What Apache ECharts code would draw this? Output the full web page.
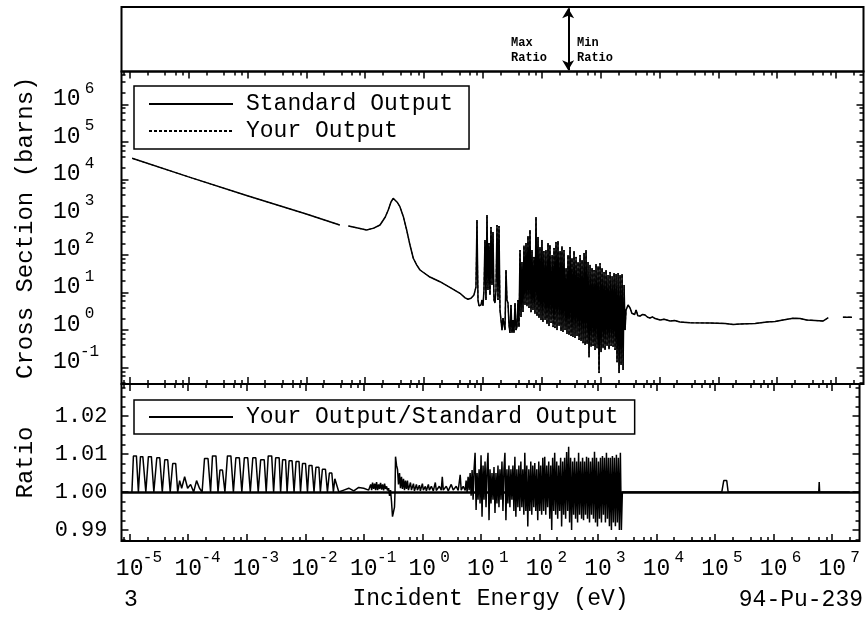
<!DOCTYPE html>
<html><head><meta charset="utf-8">
<script src="https://cdn.jsdelivr.net/npm/echarts@6/dist/echarts.min.js"></script>
<style>html,body{margin:0;padding:0;background:#fff}#c{width:867px;height:630px}</style>
</head><body><div id="c"></div>
<script>
// ---------------- data ----------------
const decadeTicks = [1e-5,1e-4,1e-3,1e-2,1e-1,1,10,100,1e3,1e4,1e5,1e6,1e7];
const xsDecadeTicks = [1e-1,1,10,100,1e3,1e4,1e5,1e6];
const ratioTicks = [0.99,1.00,1.01,1.02];
const ratioMinorTicks = [0.9875,0.9925,0.995,0.9975,1.0025,1.005,1.0075,1.0125,1.015,1.0175,1.0225,1.025,1.0275];
const maxRatioE = 290;

// smooth low-energy part of the cross section (eV, barns)
const lowE  = [1.1e-5,1e-4,1e-3,1e-2,0.037,0.044,0.052,0.075,0.106,0.14,0.179,0.22,0.247,0.275,0.30,0.35,0.39,0.445,0.508,0.578,0.658,0.75,0.855,1.26,1.87,2.99,4.09,5.0];
const lowXS = [36700,11800,3700,1216,620,null,583,513,457,513,620,1010,1550,2535,3180,2500,1900,1050,457,182,81,54,39.5,25.7,19.3,12.7,9.5,7.2];

// resonance region samples (eV)
const resE = [5.59,5.81,6.04,6.29,6.54,6.80,7.07,7.35,7.64,7.95,8.27,8.60,8.94,9.30,9.67,10.05,10.45,10.87,11.30,11.76,12.22,12.71,13.22,13.75,14.30,14.87,15.46,16.08,16.72,17.39,18.08,18.80,19.56,20.33,21.14,21.99,22.87,23.78,24.73,25.71,26.74,27.81,28.92,30.07,31.27,32.52,33.82,35.17,36.56,38.02,39.54,41.12,
42.8,44.5,46.2,48.1,50.0,52.0,54.1,56.2,58.5,60.8,63.2,65.8,68.4,71.1,73.9,76.9,80.0,83.2,86.5,89.9,93.5,97.3,101,105,109,114,118,123,128,133,138,144,150,156,162,168,175,182,189,197,205,213,221,230,239,249,259,269,280,291,303,315,327,340,354,368,383,398,414,431,448,466,484,504,524,545,566,589,612,637,662,689,716,745,774,805,837,871,906,942,979,1019,1059,1102,1145,1191,1239,1288,1339,1393,1449,1507,1567,1629,1694,1762,1832,1905,1982,2061,2143,2228,2317,2410,2506,2606];
const resXS = [6.6,6.5,6.8,7.0,7.4,7.7,8.6,11,
14,841,6.3,4.4,3.9,4.65,6.3,
4.4,11.6,248,6.3,1143,11.6,206,8.6,548,15.8,
405,6.3,5.25,11.6,620,6.3,583,3.42,
1.85,1.0,2.09,1.85,1.0,39.5,6.3,5.25,1.36,0.84,
4.65,0.84,1.85,0.84,5.25,1.0,1.21,6.3,1.21,
134,2.23,64,3.03,176,4.65,206,4.3,316,3.86,
457,3.0,134,3.42,88,2.7,1010,2.37,298,2.09,
161,1.85,248,1.64,126,1.85,134,1.45,206,1.28,
182,1.54,99,1.2,152,1.13,220,1.0,233,1.28,
126,0.94,170,0.89,134,1.0,44.5,0.79,99,0.74,
161,0.70,82,0.66,126,0.62,88,0.70,64,0.545,
99,0.51,73,0.45,112,0.40,134,0.43,64,0.19,
54,0.36,44.5,0.38,39.5,0.295,57,0.33,50,0.072,
60,0.26,44.5,0.33,35,0.295,39.5,0.38,29,0.31,
35,0.38,27,0.36,32.8,0.295,31,0.14,32.8,0.072,
29,0.118,31,0.087,15.8,1.0];
const resRatio = [1.003,1.000,1.004,1.0005,1.005,0.999,1.0058,0.998,
1.006,1.0103,0.9953,1.005,0.998,1.006,0.997,
1.0097,0.9935,1.007,0.998,1.008,0.996,1.006,1.0103,0.9926,1.006,
0.997,1.005,0.998,1.0066,0.9945,1.005,0.997,1.007,
0.996,1.006,0.998,1.008,0.995,1.006,1.0103,0.9926,1.006,0.997,
1.007,0.996,1.006,0.998,1.007,0.995,1.0093,0.9935,1.006,
0.996,1.007,0.995,1.008,0.996,1.006,0.994,1.0103,0.995,1.007,
0.9909,1.006,0.995,1.008,0.994,1.007,0.996,1.0076,0.995,1.006,
0.9926,1.008,0.995,1.007,0.994,1.009,0.995,1.0093,0.994,1.007,
0.996,1.008,0.993,1.007,0.99,1.009,0.995,1.0103,0.994,1.008,
0.993,1.007,0.995,1.009,0.9909,1.008,0.994,1.009,0.993,1.0105,
0.995,1.0119,0.992,1.009,0.99,1.008,0.994,1.009,0.993,1.008,
0.992,1.0103,0.994,1.008,0.993,1.009,0.9926,1.008,0.994,1.0093,
0.993,1.009,0.992,1.008,0.994,1.009,0.993,1.0106,0.992,1.009,
0.9909,1.008,0.993,1.009,0.992,1.0095,0.994,1.009,0.992,1.0103,
0.993,1.009,0.991,1.009,0.99,1.0095,0.992,1.009,0.991,1.0098,
0.992,1.009,0.99,1.0103,0.99,1.000];

// smooth high-energy part of the cross section
const highE  = [2710,2930,3170,3400,3560,3800,4010,4300,4690,5200,5700,6300,6930,7600,8430,1.03e4,1.2e4,1.52e4,1.8e4,2.24e4,3.32e4,7.26e4,1.31e5,1.79e5,2.35e5,4.23e5,6.67e5,9.2e5,1.26e6,1.86e6,2.45e6,3.18e6,4.4e6,6.0e6,7.4e6,1.0e7,1.31e7,1.87e7];
const highXS = [3.42,4.65,3.86,2.8,3.03,2.6,3.42,2.4,2.37,2.6,2.52,2.2,2.09,2.25,2.03,1.85,1.95,1.74,1.8,1.64,1.57,1.54,1.50,1.41,1.45,1.50,1.64,1.69,1.85,2.06,2.03,1.85,1.80,1.74,2.13,null,2.2,2.2];

// ratio, low-energy part
const ratioLowE = [1.094e-5,1.16e-5,1.305e-5,1.41e-5,1.53e-5,1.68e-5,1.89e-5,2.09e-5,2.35e-5,2.59e-5,2.91e-5,3.27e-5,3.61e-5,3.98e-5,4.47e-5,4.93e-5,5.44e-5,6.12e-5,6.62e-5,7.15e-5,7.74e-5,8.70e-5,9.78e-5,1.10e-4,1.24e-4,1.39e-4,1.56e-4,1.73e-4,1.90e-4,2.18e-4,2.41e-4,2.60e-4,2.98e-4,3.23e-4,3.49e-4,3.85e-4,4.24e-4,4.68e-4,5.36e-4,5.92e-4,6.52e-4,7.48e-4,8.25e-4,9.10e-4,1.04e-3,1.15e-3,1.27e-3,1.43e-3,1.57e-3,1.73e-3,1.99e-3,2.15e-3,2.33e-3,2.67e-3,2.88e-3,3.12e-3,3.58e-3,3.79e-3,4.10e-3,4.61e-3,4.89e-3,5.29e-3,5.95e-3,6.43e-3,6.96e-3,7.82e-3,8.29e-3,8.97e-3,1.01e-2,1.09e-2,1.16e-2,1.30e-2,1.41e-2,1.52e-2,1.71e-2,1.81e-2,1.96e-2,2.21e-2,2.39e-2,2.58e-2,2.84e-2,3.02e-2,3.20e-2,3.46e-2,3.74e-2,4.55e-2,5.53e-2,6.73e-2,8.18e-2,9.94e-2,0.121,0.131,0.136,0.141,0.147,0.153,0.159,0.165,0.172,0.179,0.186,0.193,0.201,0.209,0.218,0.226,0.235,0.245,0.254,0.265,0.275,0.286,0.297,0.309,0.322,0.334,0.341,0.348,0.362,0.376,0.391,0.407,0.423,0.440,0.457,0.476,0.495,0.514,0.535,0.556,0.578,0.626,0.651,0.704,0.732,0.791,0.823,0.890,0.925,1.000,1.040,1.125,1.170,1.265,1.316,1.423,1.539,1.664,1.730,1.946,2.104,2.188,2.276,2.560,2.767,3.112,3.365,3.785,4.093,4.426,4.603,4.977,5.383];
const ratioLowVal = [1.000,1.0095,1.0095,1.000,1.0093,1.0093,1.000,1.0093,1.0093,1.000,1.009,1.009,1.000,1.0085,1.0085,1.000,1.0075,1.0075,1.000,1.003,1.001,1.004,1.001,1.002,1.000,1.003,1.001,1.000,1.0088,1.0088,1.000,1.0095,1.0095,1.000,1.0058,1.0058,1.000,1.0095,1.0095,1.000,1.009,1.009,1.000,1.009,1.009,1.000,1.009,1.009,1.000,1.0085,1.0085,1.000,1.0095,1.0095,1.000,1.009,1.009,1.000,1.0085,1.0085,1.000,1.0082,1.0082,1.000,1.008,1.008,1.000,1.0075,1.0075,1.000,1.007,1.007,1.000,1.0065,1.0065,1.000,1.006,1.006,1.000,1.005,1.005,1.000,1.0035,1.0035,1.000,1.0005,1.001,1.0003,1.0012,1.001,1.0005,1.002,1.0005,1.0025,1.0008,1.0022,1.0005,1.0026,1.0005,1.002,1.0008,1.0024,1.0006,1.002,1.0004,1.0022,1.0008,1.0015,1.0004,1.001,0.999,1.0005,0.9975,0.9935,0.9932,0.996,1.000,1.0093,1.007,1.006,1.002,1.005,1.001,1.004,1.0008,1.0035,1.0005,1.003,1.0008,1.003,1.0005,1.0025,1.0005,1.0022,1.0003,1.002,1.0005,1.0018,1.0003,1.0022,1.0005,1.0015,1.0003,1.002,1.0005,1.0015,1.0003,1.0025,1.0004,1.0015,1.0005,1.004,1.0005,1.0015,1.0003,1.002,1.0005,1.0015,1.0004,1.0045,1.0005,1.0015,1.0004];

// ratio, high-energy part
const ratioHighE   = [2710,1.30e5,1.35e5,1.405e5,1.58e5,1.67e5,5.9e6,6.0e6,6.1e6,2.0e7];
const ratioHighVal = [1.000,1.000,0.9995,1.003,1.003,1.000,1.000,1.0026,1.000,1.000];

// ---------------- chart ----------------
const FONT = "'Liberation Mono','DejaVu Sans Mono',monospace";
const X_MIN = 7.26e-6, X_MAX = 2.93e7;
const XS_MIN = 0.0369, XS_MAX = 7.45e6;
const R_MIN = 0.98711, R_MAX = 1.02842;
const L = 121.5, Wd = 742;

function zip(a, b) { return a.map((v, i) => [v, b[i]]); }
const xsData = zip(lowE, lowXS).concat(zip(resE, resXS), zip(highE, highXS));
const ratioData = zip(ratioLowE, ratioLowVal).concat(zip(resE, resRatio), zip(ratioHighE, ratioHighVal));

const minorMult = [2, 4, 6, 8];
function minorsOf(decs) { const o = []; decs.forEach(d => minorMult.forEach(m => o.push(d * m))); return o; }
const xMinor = minorsOf([1e-6].concat(decadeTicks));
const yMinor = minorsOf([1e-2].concat(xsDecadeTicks));

const rich = {
  sp: { width: 18, fontSize: 16 },
  b: { fontFamily: FONT, fontSize: 23, color: '#000', verticalAlign: 'bottom', lineHeight: 30 },
  s: { fontFamily: FONT, fontSize: 16, color: '#000', verticalAlign: 'top', lineHeight: 30, width: 18, align: 'left' }
};
function expFmt(v) { const e = Math.round(Math.log10(v)); return '{b|10}{s|' + e + '}'; }

function baseAxis(type, grid, pos, min, max, ticks, len, extra) {
  const a = {
    type: type, gridIndex: grid, position: pos, min: min, max: max,
    axisLine: { show: false }, splitLine: { show: false }, minorTick: { show: false },
    axisTick: { show: true, inside: true, length: len, customValues: ticks, lineStyle: { color: '#000', width: 1.5 } },
    axisLabel: { show: false }, axisPointer: { show: false }
  };
  if (type === 'log') a.logBase = 10;
  return Object.assign(a, extra || {});
}

const xAxes = [
  { type: 'log', logBase: 10, gridIndex: 0, min: X_MIN, max: X_MAX, show: false },
  baseAxis('log', 1, 'bottom', X_MIN, X_MAX, decadeTicks, 7),
  baseAxis('log', 1, 'bottom', X_MIN, X_MAX, xMinor, 4),
  baseAxis('log', 1, 'top', X_MIN, X_MAX, decadeTicks, 7),
  baseAxis('log', 1, 'top', X_MIN, X_MAX, xMinor, 4),
  baseAxis('log', 2, 'bottom', X_MIN, X_MAX, decadeTicks, 7, {
    axisLabel: { show: true, customValues: decadeTicks, margin: 9, formatter: v => '{sp| }' + expFmt(v), rich: rich },
    name: 'Incident Energy (eV)', nameLocation: 'middle', nameGap: 46,
    nameTextStyle: { fontFamily: FONT, fontSize: 23, color: '#000' }
  }),
  baseAxis('log', 2, 'bottom', X_MIN, X_MAX, xMinor, 4),
  baseAxis('log', 2, 'top', X_MIN, X_MAX, decadeTicks, 7),
  baseAxis('log', 2, 'top', X_MIN, X_MAX, xMinor, 4)
];
const yAxes = [
  { type: 'value', gridIndex: 0, min: 0, max: 1, show: false },
  baseAxis('log', 1, 'left', XS_MIN, XS_MAX, xsDecadeTicks, 7, {
    axisLabel: { show: true, customValues: xsDecadeTicks, margin: 23, padding: [0, 0, 18, 0], formatter: expFmt, rich: rich },
    name: 'Cross Section (barns)', nameLocation: 'middle', nameGap: 84,
    nameTextStyle: { fontFamily: FONT, fontSize: 24, color: '#000' }
  }),
  baseAxis('log', 1, 'left', XS_MIN, XS_MAX, yMinor, 4),
  baseAxis('log', 1, 'right', XS_MIN, XS_MAX, xsDecadeTicks, 7),
  baseAxis('log', 1, 'right', XS_MIN, XS_MAX, yMinor, 4),
  baseAxis('value', 2, 'left', R_MIN, R_MAX, ratioTicks, 7, {
    axisLabel: { show: true, customValues: ratioTicks, margin: 14, padding: [0, 0, 12, 0],
      formatter: v => v.toFixed(2), fontFamily: FONT, fontSize: 22, color: '#000' },
    name: 'Ratio', nameLocation: 'middle', nameGap: 84,
    nameTextStyle: { fontFamily: FONT, fontSize: 24, color: '#000' }
  }),
  baseAxis('value', 2, 'left', R_MIN, R_MAX, ratioMinorTicks, 4),
  baseAxis('value', 2, 'right', R_MIN, R_MAX, ratioTicks, 7),
  baseAxis('value', 2, 'right', R_MIN, R_MAX, ratioMinorTicks, 4)
];

const legendBase = {
  orient: 'vertical', left: 134, itemWidth: 84, itemHeight: 14, itemGap: 3,
  borderColor: '#000', borderWidth: 1.5, backgroundColor: '#fff', selectedMode: false,
  itemStyle: { opacity: 0 },
  textStyle: { fontFamily: FONT, fontSize: 23, color: '#000', lineHeight: 24, padding: [0, 0, 0, 8] }
};

const option = {
  animation: false,
  backgroundColor: '#fff',
  grid: [
    { left: L, width: Wd, top: 7, height: 64.5, show: true, borderColor: '#000', borderWidth: 2, backgroundColor: 'transparent' },
    { left: L, width: Wd, top: 71.5, height: 312.5, show: true, borderColor: '#000', borderWidth: 2, backgroundColor: 'transparent' },
    { left: L, width: Wd, top: 384, height: 157, show: true, borderColor: '#000', borderWidth: 2, backgroundColor: 'transparent' }
  ],
  xAxis: xAxes,
  yAxis: yAxes,
  legend: [
    Object.assign({}, legendBase, { top: 86, padding: [6, 16, 6, 14], data: ['Standard Output', 'Your Output'] }),
    Object.assign({}, legendBase, { top: 400, padding: [5, 16, 5, 14], data: ['Your Output/Standard Output'] })
  ],
  series: [
    {
      name: 'Max/Min ratio marker', type: 'line', xAxisIndex: 0, yAxisIndex: 0,
      data: [[maxRatioE, 0.5]], symbol: 'none', lineStyle: { opacity: 0 }, silent: true,
      markLine: {
        silent: true, symbol: ['arrow', 'arrow'], symbolSize: [9, 10], label: { show: false },
        lineStyle: { color: '#000', width: 1, type: 'solid' },
        data: [[{ coord: [maxRatioE * 0.97, 0.02] }, { coord: [maxRatioE * 0.97, 0.98] }],
               [{ coord: [maxRatioE * 1.03, 0.02], symbol: 'none' }, { coord: [maxRatioE * 1.03, 0.98], symbol: 'none' }]]
      }
    },
    {
      name: 'Standard Output', type: 'line', xAxisIndex: 1, yAxisIndex: 1, data: xsData,
      symbol: 'none', connectNulls: false, lineStyle: { color: '#000', width: 1.5 }, itemStyle: { color: '#000' }
    },
    {
      name: 'Your Output', type: 'line', xAxisIndex: 1, yAxisIndex: 1, data: xsData,
      symbol: 'none', connectNulls: false, lineStyle: { color: '#000', width: 1, type: [3, 2] }, itemStyle: { color: '#000' }
    },
    {
      name: 'Your Output/Standard Output', type: 'line', xAxisIndex: 5, yAxisIndex: 5, data: ratioData,
      symbol: 'none', lineStyle: { color: '#000', width: 1.5 }, itemStyle: { color: '#000' },
      markLine: { silent: true, symbol: 'none', label: { show: false },
        lineStyle: { color: '#000', width: 2.5, type: 'solid' }, data: [{ yAxis: 1 }] }
    }
  ],
  graphic: [
    { type: 'text', left: 511, top: 35, style: { text: 'Max\nRatio', font: "bold 12px 'Liberation Mono'", fill: '#000', lineHeight: 15 } },
    { type: 'text', left: 577, top: 35, style: { text: 'Min\nRatio', font: "bold 12px 'Liberation Mono'", fill: '#000', lineHeight: 15 } },
    { type: 'text', left: 124, top: 588, style: { text: '3', font: "23px 'Liberation Mono'", fill: '#000' } },
    { type: 'text', right: 4, top: 588, style: { text: '94-Pu-239', font: "23px 'Liberation Mono'", fill: '#000' } }
  ]
};

const chart = echarts.init(document.getElementById('c'), null, { renderer: 'canvas' });
chart.setOption(option);
</script>
</body></html>
